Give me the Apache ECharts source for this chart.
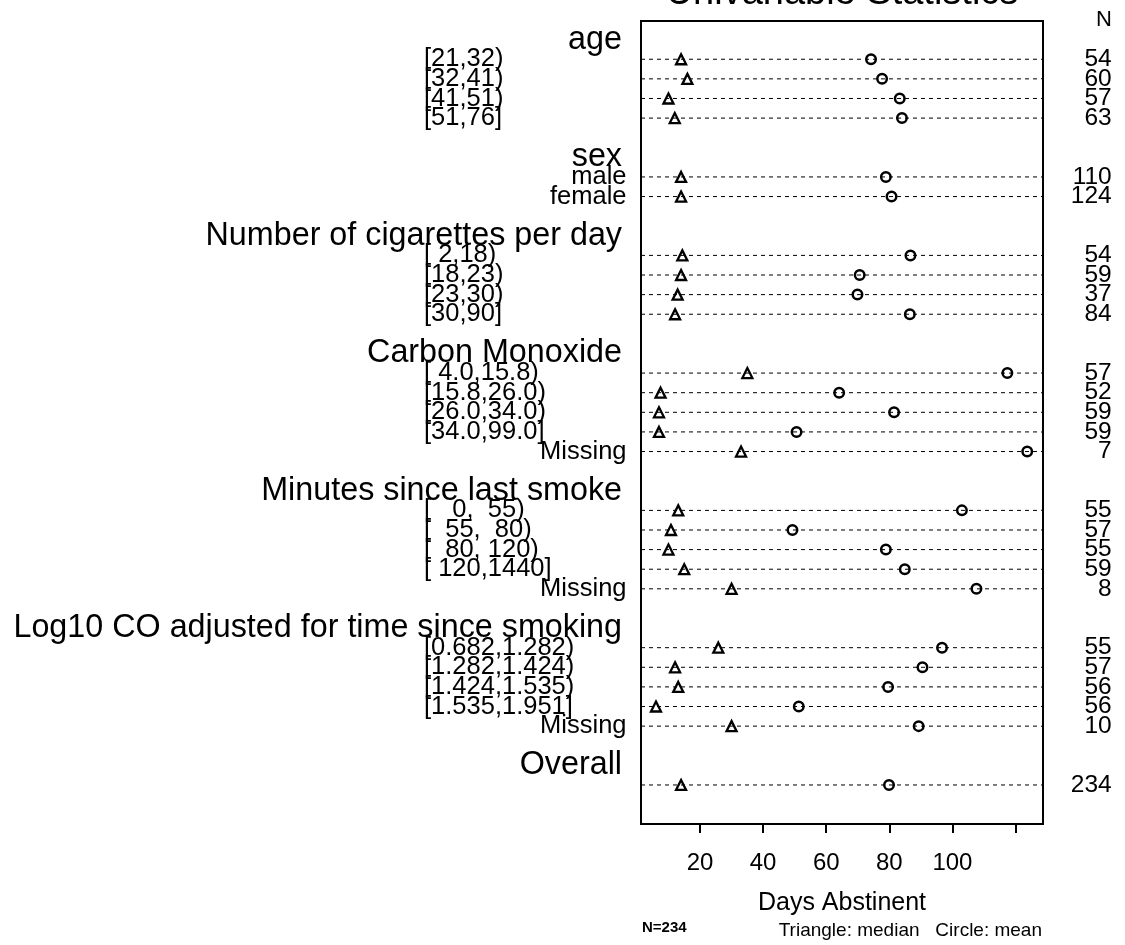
<!DOCTYPE html>
<html>
<head>
<meta charset="utf-8">
<script src="https://cdn.jsdelivr.net/npm/echarts@6/dist/echarts.min.js"></script>
<style>html,body{margin:0;padding:0;background:#fff}#c{width:1125px;height:945px}</style>
</head>
<body>
<div id="c"></div>
<script>
// ---- data ----
const groupNames = ['age', 'sex', 'Number of cigarettes per day', 'Carbon Monoxide',
  'Minutes since last smoke', 'Log10 CO adjusted for time since smoking', 'Overall'];
const levelsAge = ['[21,32)', '[32,41)', '[41,51)', '[51,76]'];
const levelsSex = ['male', 'female'];
const levelsCig = ['[ 2,18)', '[18,23)', '[23,30)', '[30,90]'];
const levelsCO = ['[ 4.0,15.8)', '[15.8,26.0)', '[26.0,34.0)', '[34.0,99.0]', 'Missing'];
const levelsMin = ['[   0,  55)', '[  55,  80)', '[  80, 120)', '[ 120,1440]', 'Missing'];
const levelsLog = ['[0.682,1.282)', '[1.282,1.424)', '[1.424,1.535)', '[1.535,1.951]', 'Missing'];
const levelsOverall = [''];

const medianAge = [14, 16, 10, 12];
const meanAge = [74.2, 77.7, 83.3, 84.0];
const nAge = [54, 60, 57, 63];
const medianSex = [14, 14];
const meanSex = [78.9, 80.7];
const nSex = [110, 124];
const medianCig = [14.4, 14, 12.9, 12.1];
const meanCig = [86.7, 70.6, 69.9, 86.5];
const nCig = [54, 59, 37, 84];
const medianCO = [35, 7.5, 7, 7, 33];
const meanCO = [117.4, 64.1, 81.5, 50.6, 123.7];
const nCO = [57, 52, 59, 59, 7];
const medianMin = [13.1, 10.8, 10, 15, 30];
const meanMin = [103.0, 49.3, 78.9, 84.9, 107.6];
const nMin = [55, 57, 55, 59, 8];
const medianLog = [25.8, 12.1, 13.1, 6.05, 30];
const meanLog = [96.7, 90.5, 79.6, 51.3, 89.3];
const nLog = [55, 57, 56, 56, 10];
const medianOverall = [14];
const meanOverall = [79.9];
const nOverall = [234];

const xTicks = [20, 40, 60, 80, 100, 120];
const xTickLabels = [20, 40, 60, 80, 100];

// ---- build row layout: header line, levels, blank line between groups ----
const groupLevels = [levelsAge, levelsSex, levelsCig, levelsCO, levelsMin, levelsLog, levelsOverall];
const groupMedians = [medianAge, medianSex, medianCig, medianCO, medianMin, medianLog, medianOverall];
const groupMeans = [meanAge, meanSex, meanCig, meanCO, meanMin, meanLog, meanOverall];
const groupN = [nAge, nSex, nCig, nCO, nMin, nLog, nOverall];

const headerRows = {}, bracketRows = {}, plainRows = {}, nRows = {};
const rowIdx = [], medData = [], meanData = [];
let pos = -1;
groupNames.forEach((g, gi) => {
  headerRows[pos] = g;
  pos += 1;
  groupLevels[gi].forEach((lv, li) => {
    if (lv.startsWith('[')) bracketRows[pos] = lv; else if (lv) plainRows[pos] = lv;
    nRows[pos] = String(groupN[gi][li]);
    rowIdx.push(pos);
    medData.push([groupMedians[gi][li], pos]);
    meanData.push([groupMeans[gi][li], pos]);
    pos += 1;
  });
  pos += 1; // blank line
});

const FONT = '"Liberation Sans", Arial, Helvetica, sans-serif';
const yMin = -1.95, yMax = 38.99;
function yAx(map, opts) {
  // empty labels at the axis ends keep ECharts from dropping neighbouring labels
  const vals = [yMin].concat(Object.keys(map).map(Number).sort((a, b) => a - b), [yMax]);
  return {
    type: 'value', min: yMin, max: yMax, inverse: true,
    position: opts.position, offset: 0,
    axisLine: {show: false, onZero: false}, axisTick: {show: false}, splitLine: {show: false},
    axisLabel: Object.assign({
      customValues: vals,
      formatter: v => (Number.isInteger(v) && map[v] !== undefined) ? map[v] : '',
      color: '#000', fontFamily: FONT, hideOverlap: false,
      showMinLabel: true, showMaxLabel: true
    }, opts.axisLabel)
  };
}

const chart = echarts.init(document.getElementById('c'), null, {renderer: 'canvas'});
chart.setOption({
  animation: false,
  backgroundColor: '#fff',
  grid: {left: 641, top: 21, width: 402, height: 803, show: true,
    borderColor: '#000', borderWidth: 2, backgroundColor: 'transparent'},
  xAxis: {
    type: 'value', min: 1.3, max: 128.7, position: 'bottom',
    axisLine: {show: false, onZero: false},
    splitLine: {show: false},
    axisTick: {show: true, customValues: xTicks, length: 9, inside: false,
      lineStyle: {color: '#000', width: 2}},
    axisLabel: {customValues: xTickLabels, color: '#000', fontFamily: FONT,
      fontSize: 24, margin: 27, showMinLabel: true, showMaxLabel: true},
    name: 'Days Abstinent', nameLocation: 'middle', nameGap: 67,
    nameTextStyle: {color: '#000', fontFamily: FONT, fontSize: 25}
  },
  yAxis: [
    yAx(headerRows, {position: 'left',
      axisLabel: {fontSize: 32.3, align: 'right', margin: 19}}),
    yAx(bracketRows, {position: 'left',
      axisLabel: {fontSize: 25.5, align: 'left', margin: 217}}),
    yAx(plainRows, {position: 'left',
      axisLabel: {fontSize: 25.5, align: 'right', margin: 14.5}}),
    yAx(nRows, {position: 'right',
      axisLabel: {fontSize: 24.5, align: 'right', margin: 68.7}})
  ],
  series: [
    {
      type: 'custom', yAxisIndex: 0, silent: true,
      data: rowIdx.map(r => [0, r]),
      renderItem: function (params, api) {
        const cs = params.coordSys;
        const y = api.coord([0, api.value(1)])[1];
        return {type: 'line', shape: {x1: cs.x, y1: y, x2: cs.x + cs.width, y2: y},
          style: {stroke: '#000', lineWidth: 1, lineDash: [4, 4]}};
      },
      z: 1
    },
    {
      type: 'scatter', yAxisIndex: 0, name: 'median', symbol: 'triangle',
      symbolSize: [10, 10], data: medData,
      itemStyle: {color: 'rgba(0,0,0,0)', borderColor: '#000', borderWidth: 2.3, opacity: 1},
      z: 3
    },
    {
      type: 'scatter', yAxisIndex: 0, name: 'mean', symbol: 'circle',
      symbolSize: 9.5, data: meanData,
      itemStyle: {color: 'rgba(0,0,0,0)', borderColor: '#000', borderWidth: 2.5, opacity: 1},
      z: 3
    }
  ],
  graphic: [
    {type: 'text', x: 842, y: -6.6,
      style: {text: 'Univariable Statistics', fontFamily: FONT, fontSize: 38, fill: '#000',
        align: 'center', verticalAlign: 'middle'}},
    {type: 'text', x: 1112, y: 20,
      style: {text: 'N', fontFamily: FONT, fontSize: 22, fill: '#000',
        align: 'right', verticalAlign: 'middle'}},
    {type: 'text', x: 642, y: 928,
      style: {text: 'N=234', fontFamily: FONT, fontSize: 15, fontWeight: 'bold', fill: '#000',
        align: 'left', verticalAlign: 'middle'}},
    {type: 'text', x: 1042, y: 930.5,
      style: {text: 'Triangle: median   Circle: mean', fontFamily: FONT, fontSize: 19, fill: '#000',
        align: 'right', verticalAlign: 'middle'}}
  ]
});
</script>
</body>
</html>
